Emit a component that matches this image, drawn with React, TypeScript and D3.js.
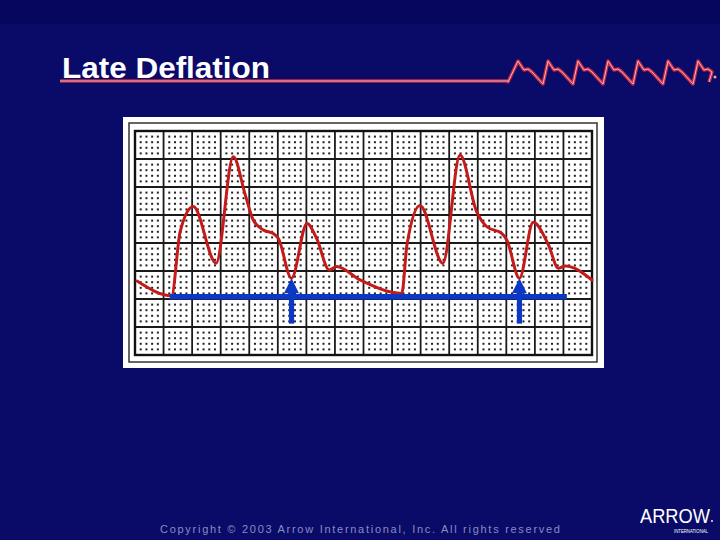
import * as d3 from "d3";

// waveform, in small ECG boxes (x: time, y: pressure)
const timeSteps = [
  0.35, 6.4, 7.9, 10.2, 14.2, 17.2, 19.3, 20.7, 22.5, 24.2, 25.1, 27.4, 30.1,
  31.8, 34.0, 35.3, 39.4, 46.7, 47.6, 49.9, 53.9, 56.9, 59.8, 61.6, 64.2, 65.1,
  67.3, 69.7, 72.4, 74.1, 75.3, 80.0,
];
const pressure = [
  13.2, 10.6, 22.0, 26.5, 16.4, 35.4, 28.6, 24.1, 22.3, 21.7, 20.8, 13.7, 23.5,
  20.8, 15.2, 15.8, 13.4, 11.0, 19.6, 26.7, 16.4, 35.7, 25.6, 22.9, 21.7, 20.5,
  13.7, 23.7, 19.6, 15.5, 15.9, 13.4,
];

const baselineLevel = 10.4;
const baselineStart = 6.1;
const baselineEnd = 75.6;

const arrowTimes = [27.4, 67.3];
const arrowTips = [13.7, 13.7];
const arrowFoot = 5.6;

// decorative heartbeat squiggle on the title rule (px offsets from each peak)
const squiggleDx = [-10, 0, 6, 10, 14, 25];
const squiggleY = [82, 61, 70, 69, 72, 84];
const squigglePeaks = [518, 548, 578, 608, 638, 668, 698];

const BG = "#0a0a68";
const RED = "#c41a1a";
const BLUE = "#0b38c4";

export default function App() {
  const width = 720;
  const height = 540;

  const x = d3.scaleLinear().domain([0, 80]).range([135, 592]);
  const y = d3.scaleLinear().domain([0, 40]).range([355, 131]);

  const wave = d3
    .line<number>()
    .x((_, i) => x(timeSteps[i]))
    .y((d) => y(d))
    .curve(d3.curveMonotoneX)(pressure);

  const majorX = d3.range(0, 81, 5);
  const majorY = d3.range(0, 41, 5);
  const minorX = d3.range(1, 80).filter((v) => v % 5 !== 0);
  const minorY = d3.range(1, 40).filter((v) => v % 5 !== 0);

  // title rule + squiggle
  const rulePts: [number, number][] = [[60, 81], [508, 81]];
  squigglePeaks.forEach((p, k) => {
    squiggleDx.forEach((dx, j) => {
      if (k > 0 && j === 0) return;
      if (k === squigglePeaks.length - 1 && j === squiggleDx.length - 1) {
        rulePts.push([709, 82]);
        return;
      }
      rulePts.push([p + dx, squiggleY[j]]);
    });
  });
  const rule = d3.line()(rulePts);

  return (
    <svg
      width={width}
      height={height}
      style={{ position: "absolute", left: 0, top: 0, display: "block" }}
    >
      <rect width={width} height={height} fill={BG} />
      <rect width={width} height={24} fill="#06065f" />

      {/* title */}
      <text
        x={62}
        y={78}
        fill="#ffffff"
        fontFamily="Liberation Sans, Arial, sans-serif"
        fontWeight="bold"
        fontSize={29}
        textLength={208}
        lengthAdjust="spacingAndGlyphs"
      >
        Late Deflation
      </text>
      <path d={rule ?? ""} fill="none" stroke="#c02a44" strokeWidth={3.5} strokeLinejoin="round" />
      <path d={rule ?? ""} fill="none" stroke="#f2b0bf" strokeWidth={1} strokeLinejoin="round" />
      <circle cx={715} cy={77} r={1.5} fill="#f0a0b0" />

      {/* paper frame */}
      <rect x={123} y={117} width={481} height={251} fill="#ffffff" />
      <rect x={129} y={123} width={468} height={239} fill="none" stroke="#333" strokeWidth={1.5} />
      <rect x={x(0)} y={y(40)} width={x(80) - x(0)} height={y(0) - y(40)} fill="#ffffff" />

      {/* dots */}
      <g fill="#222">
        {minorX.map((a) =>
          minorY.map((b) => (
            <rect key={`${a}-${b}`} x={x(a) - 1} y={y(b) - 1} width={2} height={2} />
          ))
        )}
      </g>

      {/* major grid */}
      <g stroke="#1a1a1a" strokeWidth={1.8}>
        {majorX.map((a) => (
          <line key={`vx${a}`} x1={x(a)} x2={x(a)} y1={y(0)} y2={y(40)} />
        ))}
        {majorY.map((b) => (
          <line key={`hy${b}`} x1={x(0)} x2={x(80)} y1={y(b)} y2={y(b)} />
        ))}
      </g>
      <rect x={x(0)} y={y(40)} width={x(80) - x(0)} height={y(0) - y(40)} fill="none" stroke="#111" strokeWidth={2.4} />

      {/* pressure waveform */}
      <path d={wave ?? ""} fill="none" stroke={RED} strokeWidth={3} strokeLinejoin="round" strokeLinecap="round" />

      {/* baseline */}
      <line
        x1={x(baselineStart)}
        x2={x(baselineEnd)}
        y1={y(baselineLevel)}
        y2={y(baselineLevel)}
        stroke={BLUE}
        strokeWidth={5.5}
      />

      {/* arrows */}
      {arrowTimes.map((t, i) => {
        const cx = x(t);
        const tip = y(arrowTips[i]);
        return (
          <g key={`arrow${i}`} fill={BLUE}>
            <rect x={cx - 2.6} y={tip + 12} width={5.2} height={y(arrowFoot) - tip - 12} />
            <path d={`M${cx},${tip}L${cx + 7.5},${tip + 15}L${cx - 7.5},${tip + 15}Z`} />
          </g>
        );
      })}

      {/* footer */}
      <text
        x={160}
        y={533}
        fill="#8a8ac4"
        fontFamily="Liberation Sans, Arial, sans-serif"
        fontSize={11}
        textLength={400}
        lengthAdjust="spacing"
      >
        Copyright © 2003 Arrow International, Inc.  All rights reserved
      </text>

      {/* logo */}
      <text
        x={640}
        y={523}
        fill="#ffffff"
        fontFamily="Liberation Sans Narrow, Liberation Sans, Arial, sans-serif"
        fontSize={20}
        textLength={70}
        lengthAdjust="spacingAndGlyphs"
      >
        ARROW
      </text>
      <circle cx={712} cy={521} r={0.9} fill="#ffffff" />
      <text
        x={674}
        y={533}
        fill="#ffffff"
        fontFamily="Liberation Sans, Arial, sans-serif"
        fontSize={5}
        textLength={34}
        lengthAdjust="spacingAndGlyphs"
      >
        INTERNATIONAL
      </text>
    </svg>
  );
}
